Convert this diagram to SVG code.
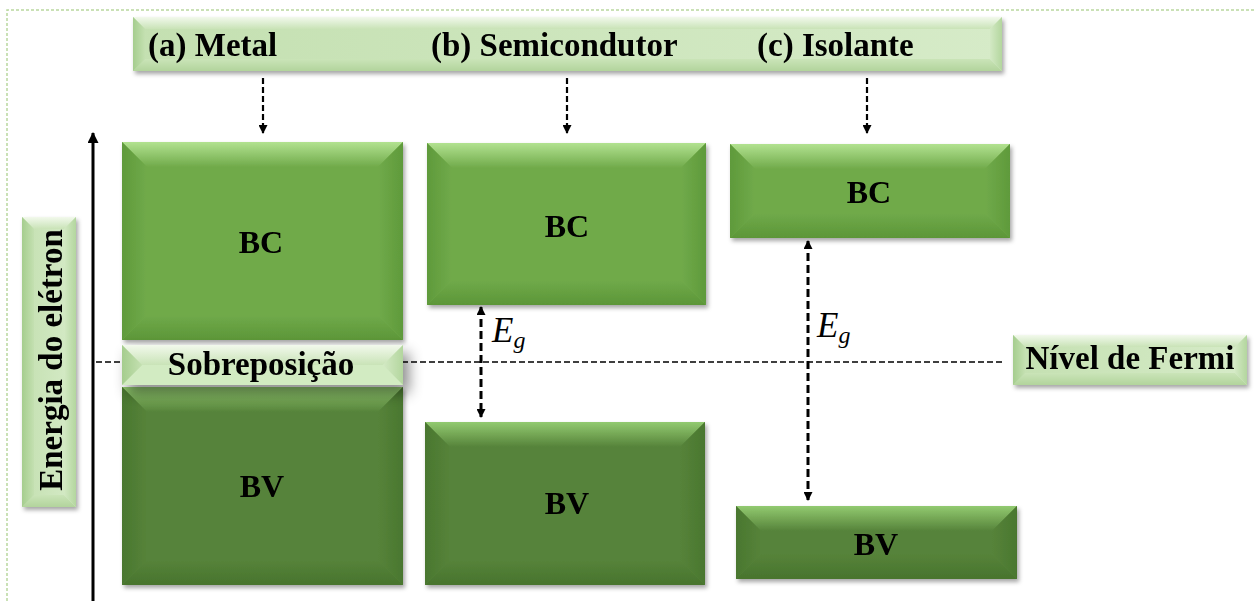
<svg xmlns="http://www.w3.org/2000/svg" width="1256" height="601" viewBox="0 0 1256 601">
<defs>
<style>
.lbl{font-family:"Liberation Serif","Times New Roman",serif;font-weight:bold;font-size:33px;fill:#000}
.bl{font-family:"Liberation Serif","Times New Roman",serif;font-weight:bold;font-size:32px;fill:#000;text-anchor:middle}
.eg{font-family:"Liberation Serif","Times New Roman",serif;font-style:italic;font-size:35px;fill:#000}
.dash{stroke:#000;stroke-width:2.2;stroke-dasharray:6 3;fill:none}
.fermi{stroke:#000;stroke-width:1.6;stroke-dasharray:6 3;fill:none}
.egl{stroke:#000;stroke-width:3;stroke-dasharray:8 4;fill:none}
.bc{fill:#70AA4A}
.bc-t{fill:url(#bcTop)}
.bc-l{fill:url(#bcL)}
.bc-r{fill:url(#bcR)}
.bc-b{fill:url(#bcB)}
.bv{fill:#56833A}
.bv-t{fill:url(#bvTop)}
.bv-l{fill:url(#bvL)}
.bv-r{fill:url(#bvR)}
.bv-b{fill:url(#bvB)}
.lt{fill:url(#ltMain)}
.lt-t{fill:url(#ltTop)}
.lt-l{fill:url(#ltL)}
.lt-r{fill:url(#ltR)}
.lt-b{fill:url(#ltB)}
</style>
<linearGradient id="bcTop" x1="0" y1="0" x2="0" y2="1"><stop offset="0" stop-color="#B2E290"/><stop offset="1" stop-color="#70AA4A"/></linearGradient>
<linearGradient id="bcL" x1="0" y1="0" x2="1" y2="0"><stop offset="0" stop-color="#5F9A3B"/><stop offset="1" stop-color="#70AA4A"/></linearGradient>
<linearGradient id="bcR" x1="1" y1="0" x2="0" y2="0"><stop offset="0" stop-color="#5F9A3B"/><stop offset="1" stop-color="#70AA4A"/></linearGradient>
<linearGradient id="bcB" x1="0" y1="1" x2="0" y2="0"><stop offset="0" stop-color="#5C9638"/><stop offset="1" stop-color="#70AA4A"/></linearGradient>
<linearGradient id="bvTop" x1="0" y1="0" x2="0" y2="1"><stop offset="0" stop-color="#92CA70"/><stop offset="1" stop-color="#56833A"/></linearGradient>
<linearGradient id="bvL" x1="0" y1="0" x2="1" y2="0"><stop offset="0" stop-color="#4A772F"/><stop offset="1" stop-color="#56833A"/></linearGradient>
<linearGradient id="bvR" x1="1" y1="0" x2="0" y2="0"><stop offset="0" stop-color="#4A772F"/><stop offset="1" stop-color="#56833A"/></linearGradient>
<linearGradient id="bvB" x1="0" y1="1" x2="0" y2="0"><stop offset="0" stop-color="#48742D"/><stop offset="1" stop-color="#56833A"/></linearGradient>
<linearGradient id="ltMain" x1="0" y1="0" x2="1" y2="0"><stop offset="0" stop-color="#C4E0B1"/><stop offset="1" stop-color="#D6EBC8"/></linearGradient>
<linearGradient id="ltTop" x1="0" y1="0" x2="0" y2="1"><stop offset="0" stop-color="#F2F9EC"/><stop offset="1" stop-color="#C9E3B7"/></linearGradient>
<linearGradient id="ltL" x1="0" y1="0" x2="1" y2="0"><stop offset="0" stop-color="#A5CD8E"/><stop offset="1" stop-color="#C4E0B1"/></linearGradient>
<linearGradient id="ltR" x1="1" y1="0" x2="0" y2="0"><stop offset="0" stop-color="#B3D69E"/><stop offset="1" stop-color="#D3E9C4"/></linearGradient>
<linearGradient id="ltB" x1="0" y1="1" x2="0" y2="0"><stop offset="0" stop-color="#B2D49C"/><stop offset="1" stop-color="#CAE4B8"/></linearGradient>
<filter id="sh" x="-10%" y="-10%" width="125%" height="130%"><feDropShadow dx="2" dy="3" stdDeviation="2" flood-color="#000" flood-opacity="0.35"/></filter>
<filter id="shBig" x="-10%" y="-30%" width="130%" height="220%"><feDropShadow dx="6" dy="8" stdDeviation="7" flood-color="#000" flood-opacity="0.45"/></filter>
<marker id="ah" viewBox="0 0 10 10" refX="9" refY="5" markerWidth="10" markerHeight="9" markerUnits="userSpaceOnUse" orient="auto-start-reverse"><path d="M0,0 L10,5 L0,10 z" fill="#000"/></marker>
<marker id="ahAxis" viewBox="0 0 10 10" refX="9" refY="5" markerWidth="12" markerHeight="11" markerUnits="userSpaceOnUse" orient="auto"><path d="M0,0 L10,5 L0,10 z" fill="#000"/></marker>
</defs>
<rect width="1256" height="601" fill="#fff"/>
<path d="M7,601 V10 H1256" stroke="#B9D89F" stroke-width="1.5" stroke-dasharray="3 2" fill="none"/>

<g id="connectors">
<line class="dash" x1="263" y1="78" x2="263" y2="133" marker-end="url(#ah)"/>
<line class="dash" x1="567" y1="78" x2="567" y2="133" marker-end="url(#ah)"/>
<line class="dash" x1="867" y1="78" x2="867" y2="133" marker-end="url(#ah)"/>
<line x1="93" y1="601" x2="93" y2="133" stroke="#000" stroke-width="3" marker-end="url(#ahAxis)"/>
<line class="fermi" x1="96" y1="362" x2="1003" y2="362"/>
<line class="egl" x1="481" y1="307" x2="481" y2="417" marker-start="url(#ah)" marker-end="url(#ah)"/>
<line class="egl" x1="808" y1="241" x2="808" y2="500" marker-start="url(#ah)" marker-end="url(#ah)"/>
<text class="eg" x="492" y="342">E<tspan font-size="24" dy="6">g</tspan></text>
<text class="eg" x="817" y="337">E<tspan font-size="24" dy="6">g</tspan></text>
</g>

<g id="banner" filter="url(#sh)">
<rect class="lt" x="133" y="17" width="869" height="54"/>
<polygon class="lt-t" points="133,17 1002,17 990,29 145,29"/>
<polygon class="lt-b" points="133,71 1002,71 990,59 145,59"/>
<polygon class="lt-l" points="133,17 145,29 145,59 133,71"/>
<polygon class="lt-r" points="1002,17 990,29 990,59 1002,71"/>
<text class="lbl" x="148" y="56">(a) Metal</text>
<text class="lbl" x="431" y="56">(b) Semicondutor</text>
<text class="lbl" x="757" y="56">(c) Isolante</text>
</g>

<g id="metal-bc" filter="url(#sh)">
<rect class="bc" x="122" y="142" width="281" height="198"/>
<polygon class="bc-t" points="122,142 403,142 378,167 147,167"/>
<polygon class="bc-b" points="122,340 403,340 378,315 147,315"/>
<polygon class="bc-l" points="122,142 147,167 147,315 122,340"/>
<polygon class="bc-r" points="403,142 378,167 378,315 403,340"/>
<text class="bl" x="261" y="253">BC</text>
</g>

<g id="metal-bv" filter="url(#sh)">
<rect class="bv" x="122" y="387" width="281" height="198"/>
<polygon class="bv-t" points="122,387 403,387 378,412 147,412"/>
<polygon class="bv-b" points="122,585 403,585 378,560 147,560"/>
<polygon class="bv-l" points="122,387 147,412 147,560 122,585"/>
<polygon class="bv-r" points="403,387 378,412 378,560 403,585"/>
<text class="bl" x="262" y="497">BV</text>
</g>

<g id="sobreposicao" filter="url(#shBig)">
<rect class="lt" x="122" y="345" width="281" height="40"/>
<polygon class="lt-t" points="122,345 403,345 383,365 142,365"/>
<polygon points="122,385 403,385 383,365 142,365" fill="#D2EBC2"/>
<polygon class="lt-l" points="122,345 142,365 122,385"/>
<polygon class="lt-r" points="403,345 383,365 403,385"/>
<text class="lbl" x="261" y="375" text-anchor="middle">Sobreposição</text>
</g>

<g id="semi-bc" filter="url(#sh)">
<rect class="bc" x="427" y="143" width="279" height="162"/>
<polygon class="bc-t" points="427,143 706,143 681,168 452,168"/>
<polygon class="bc-b" points="427,305 706,305 681,280 452,280"/>
<polygon class="bc-l" points="427,143 452,168 452,280 427,305"/>
<polygon class="bc-r" points="706,143 681,168 681,280 706,305"/>
<text class="bl" x="567" y="237">BC</text>
</g>

<g id="semi-bv" filter="url(#sh)">
<rect class="bv" x="425" y="422" width="280" height="163"/>
<polygon class="bv-t" points="425,422 705,422 680,447 450,447"/>
<polygon class="bv-b" points="425,585 705,585 680,560 450,560"/>
<polygon class="bv-l" points="425,422 450,447 450,560 425,585"/>
<polygon class="bv-r" points="705,422 680,447 680,560 705,585"/>
<text class="bl" x="567" y="514">BV</text>
</g>

<g id="isol-bc" filter="url(#sh)">
<rect class="bc" x="730" y="144" width="280" height="94"/>
<polygon class="bc-t" points="730,144 1010,144 985,169 755,169"/>
<polygon class="bc-b" points="730,238 1010,238 985,213 755,213"/>
<polygon class="bc-l" points="730,144 755,169 755,213 730,238"/>
<polygon class="bc-r" points="1010,144 985,169 985,213 1010,238"/>
<text class="bl" x="869" y="203">BC</text>
</g>

<g id="isol-bv" filter="url(#sh)">
<rect class="bv" x="736" y="506" width="281" height="73"/>
<polygon class="bv-t" points="736,506 1017,506 992,531 761,531"/>
<polygon class="bv-b" points="736,579 1017,579 992,554 761,554"/>
<polygon class="bv-l" points="736,506 761,531 761,554 736,579"/>
<polygon class="bv-r" points="1017,506 992,531 992,554 1017,579"/>
<text class="bl" x="876" y="555">BV</text>
</g>

<g id="fermi-label" filter="url(#sh)">
<rect class="lt" x="1013" y="335" width="234" height="50"/>
<polygon class="lt-t" points="1013,335 1247,335 1235,347 1025,347"/>
<polygon class="lt-b" points="1013,385 1247,385 1235,373 1025,373"/>
<polygon class="lt-l" points="1013,335 1025,347 1025,373 1013,385"/>
<polygon class="lt-r" points="1247,335 1235,347 1235,373 1247,385"/>
<text class="lbl" x="1130" y="369" text-anchor="middle">Nível de Fermi</text>
</g>

<g id="energy-label" filter="url(#sh)">
<rect class="lt" x="22" y="217" width="54" height="290"/>
<polygon class="lt-t" points="22,217 76,217 64,229 34,229"/>
<polygon class="lt-b" points="22,507 76,507 64,495 34,495"/>
<polygon class="lt-l" points="22,217 34,229 34,495 22,507"/>
<polygon class="lt-r" points="76,217 64,229 64,495 76,507"/>
<text class="lbl" x="62" y="360" text-anchor="middle" transform="rotate(-90 62 360)">Energia do elétron</text>
</g>
</svg>
